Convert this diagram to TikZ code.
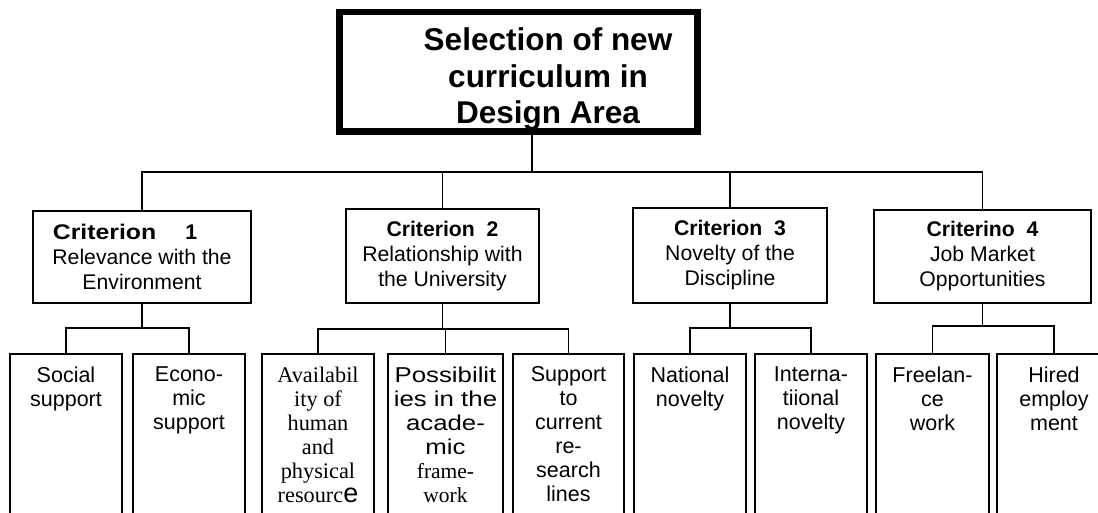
\documentclass[tikz,border=0pt]{standalone}
\usepackage{fontspec}
\setmainfont{Liberation Sans}
\newfontfamily\timesfont{Liberation Serif}
\newfontfamily\widefont[FakeStretch=1.2]{Liberation Sans}
\usepackage{tikz}
\tikzset{
    goalbox/.style={draw, line width=6.5pt, outer sep=0pt, inner sep=0pt,
        minimum width=358pt, minimum height=119.5pt},
    goaltext/.style={font=\fontsize{31.5}{36.7}\selectfont\bfseries, align=center,
        inner sep=0pt, anchor=base},
    critbox/.style={draw, line width=1.6pt, outer sep=0pt, inner sep=0pt, align=center,
        font=\fontsize{21.2}{25}\selectfont},
    leafbox/.style={draw, line width=1.6pt, outer sep=0pt, inner sep=0pt, anchor=north,
        minimum height=180pt},
    leaflabel/.style={anchor=north, yshift=-12.5pt, inner sep=0pt, align=center,
        font=\fontsize{21.5}{24}\selectfont},
    serifleaf/.style={leaflabel, font=\fontsize{22.3}{24}\selectfont\timesfont},
    wideleaf/.style={leaflabel, font=\fontsize{21.5}{24}\selectfont\widefont},
    link/.style={line width=1.6pt},
}
\begin{document}
\begin{tikzpicture}[x=1pt, y=-1pt]
    \useasboundingbox (0,0) rectangle (1098,513);
    \fill[white] (0,0) rectangle (1098,513);
    \clip (0,0) rectangle (1098,513);

    \node[goalbox] (goal) at (518.5,71.75) {};
    \begin{scope}
        \clip ([shift={(3.25pt,-3.25pt)}]goal.north west) rectangle ([shift={(-3.25pt,3.25pt)}]goal.south east);
        \node[goaltext] (title) at (548,124) {Selection of new\\curriculum in\\Design Area};
    \end{scope}

    \node[critbox, minimum width=218pt, minimum height=92pt] (c1) at (142,257)
        {\scalebox{1.17}[1]{\bfseries Criterion}\hspace{29pt}\textbf{1}\rule{34pt}{0pt}\\Relevance with the\\Environment};
    \node[critbox, minimum width=193pt, minimum height=94pt] (c2) at (442.5,256)
        {\textbf{Criterion\ \ 2}\\Relationship with\\the University};
    \node[critbox, minimum width=194pt, minimum height=95pt] (c3) at (730,255.5)
        {\textbf{Criterion\ \ 3}\\Novelty of the\\Discipline};
    \node[critbox, minimum width=217pt, minimum height=93pt] (c4) at (982.5,256.5)
        {\textbf{Criterino\ \ 4}\\Job Market\\Opportunities};

    \node[leafbox, minimum width=112pt, label={[leaflabel]north:Social\\support}] (social) at (66,354) {};
    \node[leafbox, minimum width=112pt, label={[leaflabel]north:Econo-\\mic\\support}] (econ) at (189,354) {};
    \node[leafbox, minimum width=112pt,
        label={[serifleaf]north:Availabil\\ity of\\human\\and\\physical\\resourc{\fontsize{27}{24}\selectfont\normalfont e}}] (avail) at (318,354) {};
    \node[leafbox, minimum width=115pt,
        label={[wideleaf]north:Possibilit\\ies in the\\acade-\\mic\\{\timesfont frame-}\\{\timesfont work}}] (poss) at (445.5,354) {};
    \node[leafbox, minimum width=111pt, label={[leaflabel]north:Support\\to\\current\\re-\\search\\lines}] (supp) at (568.5,354) {};
    \node[leafbox, minimum width=112pt, label={[leaflabel]north:National\\novelty}] (natl) at (690,354) {};
    \node[leafbox, minimum width=112pt, label={[leaflabel]north:Interna-\\tiional\\novelty}] (intl) at (811,354) {};
    \node[leafbox, minimum width=113pt, label={[leaflabel]north:Freelan-\\ce\\work}] (free) at (932.5,354) {};
    \node[leafbox, minimum width=114pt, label={[leaflabel]north:Hired\\employ\\ment}] (hired) at (1054,354) {};

    \coordinate (hub) at (532,172);
    \coordinate (c1hub) at (142,328);
    \coordinate (c2hub) at (442.5,329);
    \coordinate (c3hub) at (730,328);
    \coordinate (c4hub) at (982.5,326);

    \draw[link] (goal.south -| hub) -- (hub);
    \draw[link] (c1.north) |- (hub) -| (c4.north);
    \draw[link] (c2.north) -- (c2.north |- hub);
    \draw[link] (c3.north) -- (c3.north |- hub);

    \draw[link] (c1.south) -- (c1hub);
    \draw[link] (social.north) |- (c1hub) -| (econ.north);
    \draw[link] (c2.south) -- (c2hub);
    \draw[link] (avail.north) |- (c2hub) -| (supp.north);
    \draw[link] (poss.north) -- (poss.north |- c2hub);
    \draw[link] (c3.south) -- (c3hub);
    \draw[link] (natl.north) |- (c3hub) -| (intl.north);
    \draw[link] (c4.south) -- (c4hub);
    \draw[link] (free.north) |- (c4hub) -| (hired.north);
\end{tikzpicture}
\end{document}
